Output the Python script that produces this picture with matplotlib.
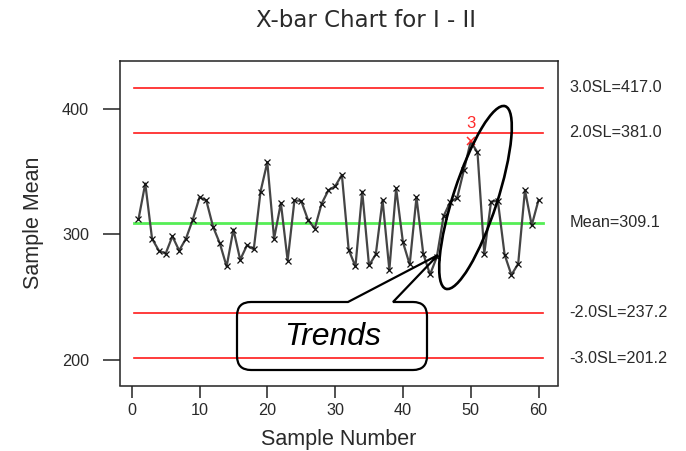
import numpy as np
import matplotlib
matplotlib.use("Agg")
import matplotlib.pyplot as plt
from matplotlib.patches import Ellipse, PathPatch
from matplotlib.path import Path

# ---------------- data ----------------
sample_number = list(range(1, 61))
sample_mean = [312, 340.5, 296.5, 287, 284.5, 298.4, 287, 296.5, 311.5, 329.5,
               327, 306, 292.7, 274.3, 303.8, 279.7, 291.2, 288, 334, 357.5,
               296.5, 325, 279, 327, 326.6, 311.5, 304.6, 324.3, 335, 338.3,
               347.4, 287.7, 274.3, 334, 275.1, 284, 327.3, 271.6, 336.7, 293.8,
               275.9, 329.5, 284.5, 267.9, 281.8, 314.5, 326, 329, 351.4, 374.1,
               365.3, 284.5, 326, 326.8, 283.7, 267.6, 276.4, 335.3, 307.2, 327.3]
flagged_point = 50
flag_label = "3"
limit_values = [417.0, 381.0, 309.1, 237.2, 201.2]
limit_labels = ["3.0SL=417.0", "2.0SL=381.0", "Mean=309.1", "-2.0SL=237.2", "-3.0SL=201.2"]
x_ticks = [0, 10, 20, 30, 40, 50, 60]
y_ticks = [200, 300, 400]
title = "X-bar Chart for I - II"
x_label = "Sample Number"
y_label = "Sample Mean"
callout_text = "Trends"

# ---------------- figure ----------------
W, H = 686, 451
fig = plt.figure(figsize=(W / 100, H / 100), dpi=100)
plt.rcParams['font.family'] = ['Liberation Sans', 'DejaVu Sans']
txt = '#2a2a2a'

L, R, T, B = 119.5, 557.5, 61, 385.5
ax = fig.add_axes([L / W, 1 - B / H, (R - L) / W, (B - T) / H])
ax.set_xlim(-1.8, 62.8)
ax.set_ylim(179.3, 438.3)

for s in ax.spines.values():
    s.set_linewidth(1.1)
    s.set_color('#222222')

# control lines
x0, x1 = 0.4, 60.6
for v in limit_values:
    if abs(v - 309.1) < 1e-6:
        ax.plot([x0, x1], [v, v], color='#55ee55', lw=2.0, zorder=2)
    else:
        ax.plot([x0, x1], [v, v], color='#ff1a1a', lw=1.2, zorder=2)

# data
ax.plot(sample_number, sample_mean, color='#454545', lw=1.6, zorder=3)
normal = [i for i in range(len(sample_number)) if sample_number[i] != flagged_point]
ax.plot([sample_number[i] for i in normal], [sample_mean[i] for i in normal],
        ls='none', marker='x', ms=5, mew=0.9, color='#111111', zorder=4)
fi = sample_number.index(flagged_point)
ax.plot([sample_number[fi]], [sample_mean[fi]], ls='none', marker='x', ms=5.5,
        mew=1.1, color='#ff2a2a', zorder=5)
ax.annotate(flag_label, (sample_number[fi], sample_mean[fi]), xytext=(0, 13),
            textcoords='offset points', ha='center', va='center',
            color='#ff2a2a', fontsize=12)

# limit labels on right
for v, lab in zip(limit_values, limit_labels):
    ax.text(1.027, v, lab, transform=ax.get_yaxis_transform(), ha='left',
            va='center', fontsize=11.7, color=txt, clip_on=False)

# ticks
ax.set_xticks(x_ticks)
ax.set_yticks(y_ticks)
ax.tick_params(axis='x', direction='out', length=8.4, width=1.1, pad=4.3,
               labelsize=11.7, colors='#222222')
ax.tick_params(axis='y', direction='out', length=12.2, width=1.1, pad=9.8,
               labelsize=11.7, colors='#222222')
for lab in ax.get_xticklabels() + ax.get_yticklabels():
    lab.set_color(txt)

ax.set_xlabel(x_label, fontsize=15.5, color=txt, labelpad=8)
ax.set_ylabel(y_label, fontsize=15.5, color=txt, labelpad=13)
fig.text(365.5 / W, 1 - 20.5 / H, title, ha='center', va='center',
         fontsize=16.5, color=txt, family='DejaVu Sans')

# ---------------- annotations (pixel coords) ----------------
def P(x, y):
    return (x / 100, (H - y) / 100)

tr = fig.dpi_scale_trans
ell = Ellipse(P(475.5, 197.5), width=1.92, height=0.44, angle=72,
              facecolor='none', edgecolor='black', lw=1.9, transform=tr, zorder=10)
fig.add_artist(ell)

bl, br, bt, bb, r = 237, 427, 302, 370, 14
xl, xr, tip = 348, 393, (438, 255)
verts = [P(bl + r, bt), P(xl, bt), P(*tip), P(xr, bt), P(br - r, bt),
         P(br, bt), P(br, bt + r), P(br, bb - r),
         P(br, bb), P(br - r, bb), P(bl + r, bb),
         P(bl, bb), P(bl, bb - r), P(bl, bt + r),
         P(bl, bt), P(bl + r, bt), P(bl + r, bt)]
codes = [Path.MOVETO, Path.LINETO, Path.LINETO, Path.LINETO, Path.LINETO,
         Path.CURVE3, Path.CURVE3, Path.LINETO,
         Path.CURVE3, Path.CURVE3, Path.LINETO,
         Path.CURVE3, Path.CURVE3, Path.LINETO,
         Path.CURVE3, Path.CURVE3, Path.CLOSEPOLY]
callout = PathPatch(Path(verts, codes), facecolor='none', edgecolor='black',
                    lw=1.6, transform=tr, zorder=10, joinstyle='miter')
fig.add_artist(callout)
fig.text(333 / W, 1 - 337 / H, callout_text, ha='center', va='center',
         fontsize=23, style='italic', color='black')

fig.savefig('out.png', dpi=100)
